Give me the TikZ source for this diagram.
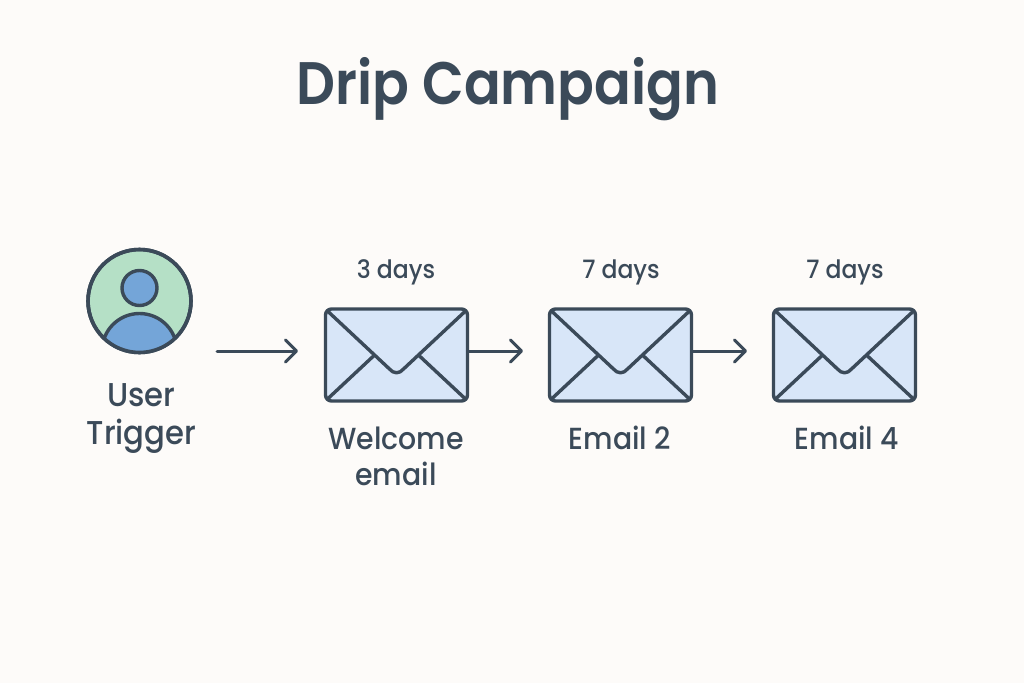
\documentclass[tikz,border=0pt]{standalone}
\usepackage{fontspec}
\setmainfont{Poppins}
\newfontfamily\titlefont[FakeStretch=0.905]{Poppins SemiBold}
\newfontfamily\labelfont[FakeStretch=0.93]{Poppins Medium}
\usetikzlibrary{arrows.meta}
\definecolor{ink}{HTML}{3B4A59}
\definecolor{paper}{HTML}{FDFBF9}
\definecolor{mint}{HTML}{B5E0C6}
\definecolor{azure}{HTML}{74A5D8}
\definecolor{pale}{HTML}{D8E6F8}
\tikzset{
  x=1pt,y=-1pt,
  ic/.style={draw=ink,line width=3.4pt,line join=round,line cap=round},
  flow/.style={draw=ink,line width=3pt,line cap=round,-{Straight Barb[length=11pt,width=22pt,line width=3pt,round]}},
  lab/.style={text=ink,font=\labelfont\fontsize{30.5}{36}\selectfont,align=center,inner sep=0pt},
  biglab/.style={text=ink,font=\labelfont\fontsize{33}{38}\selectfont,align=center,inner sep=0pt},
  dly/.style={text=ink,font=\labelfont\fontsize{25.3}{30}\selectfont,inner sep=0pt},
  env/.style={inner sep=0pt,minimum width=142pt,minimum height=92pt},
}
\newcommand{\envelope}[1]{%
  \begin{scope}[shift={(#1,0)}]
    \draw[ic,fill=pale,rounded corners=6pt] (325.5,309) rectangle (467.5,401);
    \draw[ic] (327.5,311) -- (389.5,369) .. controls (393.5,374) and (399.5,374) .. (403.5,369) -- (465.5,311);
    \draw[ic] (327.5,399) -- (373.5,356);
    \draw[ic] (465.5,399) -- (419.5,356);
  \end{scope}}
\begin{document}
\begin{tikzpicture}
\useasboundingbox (0,0) rectangle (1024,683);
\fill[paper] (0,0) rectangle (1024,683);
\node[text=ink,font=\titlefont\fontsize{60}{70}\selectfont,inner sep=0pt] (title) at (508,89) {Drip Campaign};
% user
\node[circle,draw=ink,line width=3.6pt,fill=mint,minimum size=103pt,inner sep=0pt] (user) at (139.5,301) {};
\begin{scope}
  \clip (139.5,301) circle (51);
  \draw[ic,fill=azure] (139.5,351) circle (37.5);
\end{scope}
\draw[draw=ink,line width=3.6pt] (139.5,301) circle (51.5);
\draw[ic,fill=azure] (139.5,288) circle (17.5);
\node[biglab] (ulabel) at (141.5,419) {User\\Trigger};
% envelopes
\envelope{0}\envelope{224}\envelope{448}
\node[env] (e1) at (396.5,355) {};
\node[env] (e2) at (620.5,355) {};
\node[env] (e3) at (844.5,355) {};
\coordinate (a0s) at (217,351);
\coordinate (a0e) at (298,351);
\draw[flow] (a0s) -- (a0e);
\coordinate (a1e) at (523,351);
\coordinate (a2e) at (747,351);
\draw[flow] (e1.east |- a1e) -- (a1e);
\draw[flow] (e2.east |- a2e) -- (a2e);
\node[dly] (d1) at (396,272) {3 days};
\node[dly] (d2) at (621,272) {7 days};
\node[dly] (d3) at (845,272) {7 days};
\node[lab] (l1) at (396,456) {Welcome\\email};
\node[lab] (l2) at (620,438) {Email 2};
\node[lab] (l3) at (847,438) {Email 4};
\end{tikzpicture}
\end{document}
